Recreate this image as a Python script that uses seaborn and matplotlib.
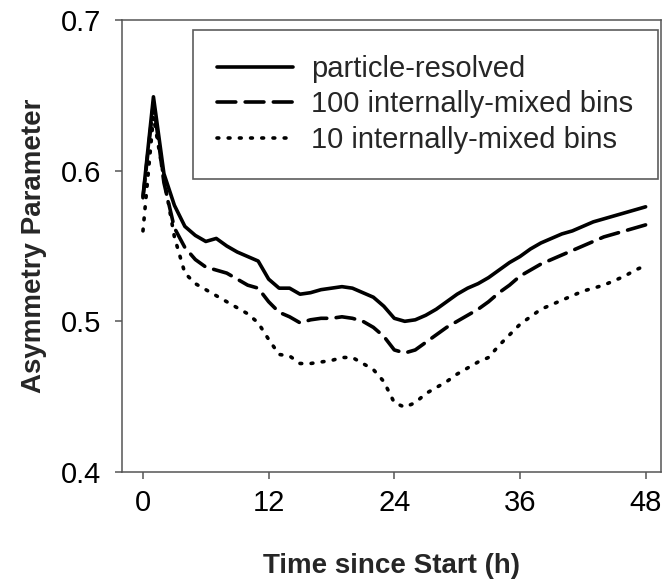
"""
Asymmetry parameter over time — particle-resolved vs internally-mixed bins
"""

import pandas as pd
import matplotlib
matplotlib.use("Agg")
import matplotlib.pyplot as plt
import seaborn as sns

# ── Data ─────────────────────────────────────────────────────────────────────
hours = list(range(0, 49))

particle_resolved = [
    0.583, 0.649, 0.598, 0.577, 0.563, 0.557, 0.553, 0.555, 0.550, 0.546,
    0.543, 0.540, 0.528, 0.522, 0.522, 0.518, 0.519, 0.521, 0.522, 0.523,
    0.522, 0.519, 0.516, 0.510, 0.502, 0.500, 0.501, 0.504, 0.508, 0.513,
    0.518, 0.522, 0.525, 0.529, 0.534, 0.539, 0.543, 0.548, 0.552, 0.555,
    0.558, 0.560, 0.563, 0.566, 0.568, 0.570, 0.572, 0.574, 0.576,
]
bins_100 = [
    0.582, 0.645, 0.592, 0.562, 0.549, 0.541, 0.536, 0.534, 0.532, 0.528,
    0.524, 0.522, 0.513, 0.506, 0.503, 0.499, 0.501, 0.502, 0.502, 0.503,
    0.502, 0.500, 0.496, 0.490, 0.481, 0.479, 0.481, 0.486, 0.491, 0.496,
    0.500, 0.504, 0.508, 0.513, 0.519, 0.524, 0.530, 0.534, 0.538, 0.541,
    0.544, 0.547, 0.550, 0.553, 0.556, 0.558, 0.560, 0.562, 0.564,
]
bins_10 = [
    0.560, 0.636, 0.595, 0.556, 0.532, 0.525, 0.521, 0.517, 0.513, 0.509,
    0.505, 0.499, 0.488, 0.478, 0.477, 0.472, 0.472, 0.473, 0.474, 0.476,
    0.476, 0.472, 0.468, 0.460, 0.446, 0.443, 0.446, 0.452, 0.456, 0.460,
    0.465, 0.469, 0.473, 0.476, 0.484, 0.491, 0.498, 0.503, 0.508, 0.511,
    0.514, 0.517, 0.520, 0.522, 0.524, 0.527, 0.530, 0.534, 0.537,
]

SERIES = {
    "particle-resolved": (particle_resolved, "-"),
    "100 internally-mixed bins": (bins_100, (0, (5.2, 2.6))),
    "10 internally-mixed bins": (bins_10, (0, (0.5, 2.6))),
}

x_ticks = [0, 12, 24, 36, 48]
y_ticks = [0.4, 0.5, 0.6, 0.7]

# ── Style ────────────────────────────────────────────────────────────────────
sns.set_theme(style="ticks")
plt.rcParams.update({
    "font.family": ["Liberation Sans", "DejaVu Sans"],
    "axes.edgecolor": "#555555",
    "axes.linewidth": 1.1,
    "xtick.color": "#555555",
    "ytick.color": "#555555",
    "xtick.labelcolor": "black",
    "ytick.labelcolor": "black",
})

fig = plt.figure(figsize=(6.65, 5.84), dpi=100)
ax = fig.add_axes([0.1835, 0.1918, 0.811, 0.774])

for name, (vals, ls) in SERIES.items():
    sns.lineplot(x=hours, y=vals, ax=ax, color="black", linewidth=2.6,
                 linestyle=ls, label=name, dash_capstyle="round")

ax.set_xlim(-2, 49.5)
ax.set_ylim(0.4, 0.7)
ax.set_xticks(x_ticks)
ax.set_yticks(y_ticks)
ax.set_yticklabels([f"{v:.1f}" for v in y_ticks])
ax.tick_params(axis="x", length=5, width=1.1, labelsize=21, pad=7)
ax.tick_params(axis="y", length=5, width=1.1, labelsize=21, pad=10)
for side in ["top", "right"]:
    ax.spines[side].set_visible(True)

ax.set_xlabel("Time since Start (h)", fontsize=20, fontweight="bold", labelpad=26)
ax.set_ylabel("Asymmetry Parameter", fontsize=20, fontweight="bold", labelpad=10)

leg = ax.legend(loc="upper right", bbox_to_anchor=(0.993, 0.977), fontsize=21,
                frameon=True, fancybox=False, edgecolor="#333333",
                handlelength=2.6, handletextpad=0.6, labelspacing=0.25,
                borderpad=0.85, borderaxespad=0)
leg.get_frame().set_linewidth(1.2)

fig.savefig("out.png", dpi=100)
